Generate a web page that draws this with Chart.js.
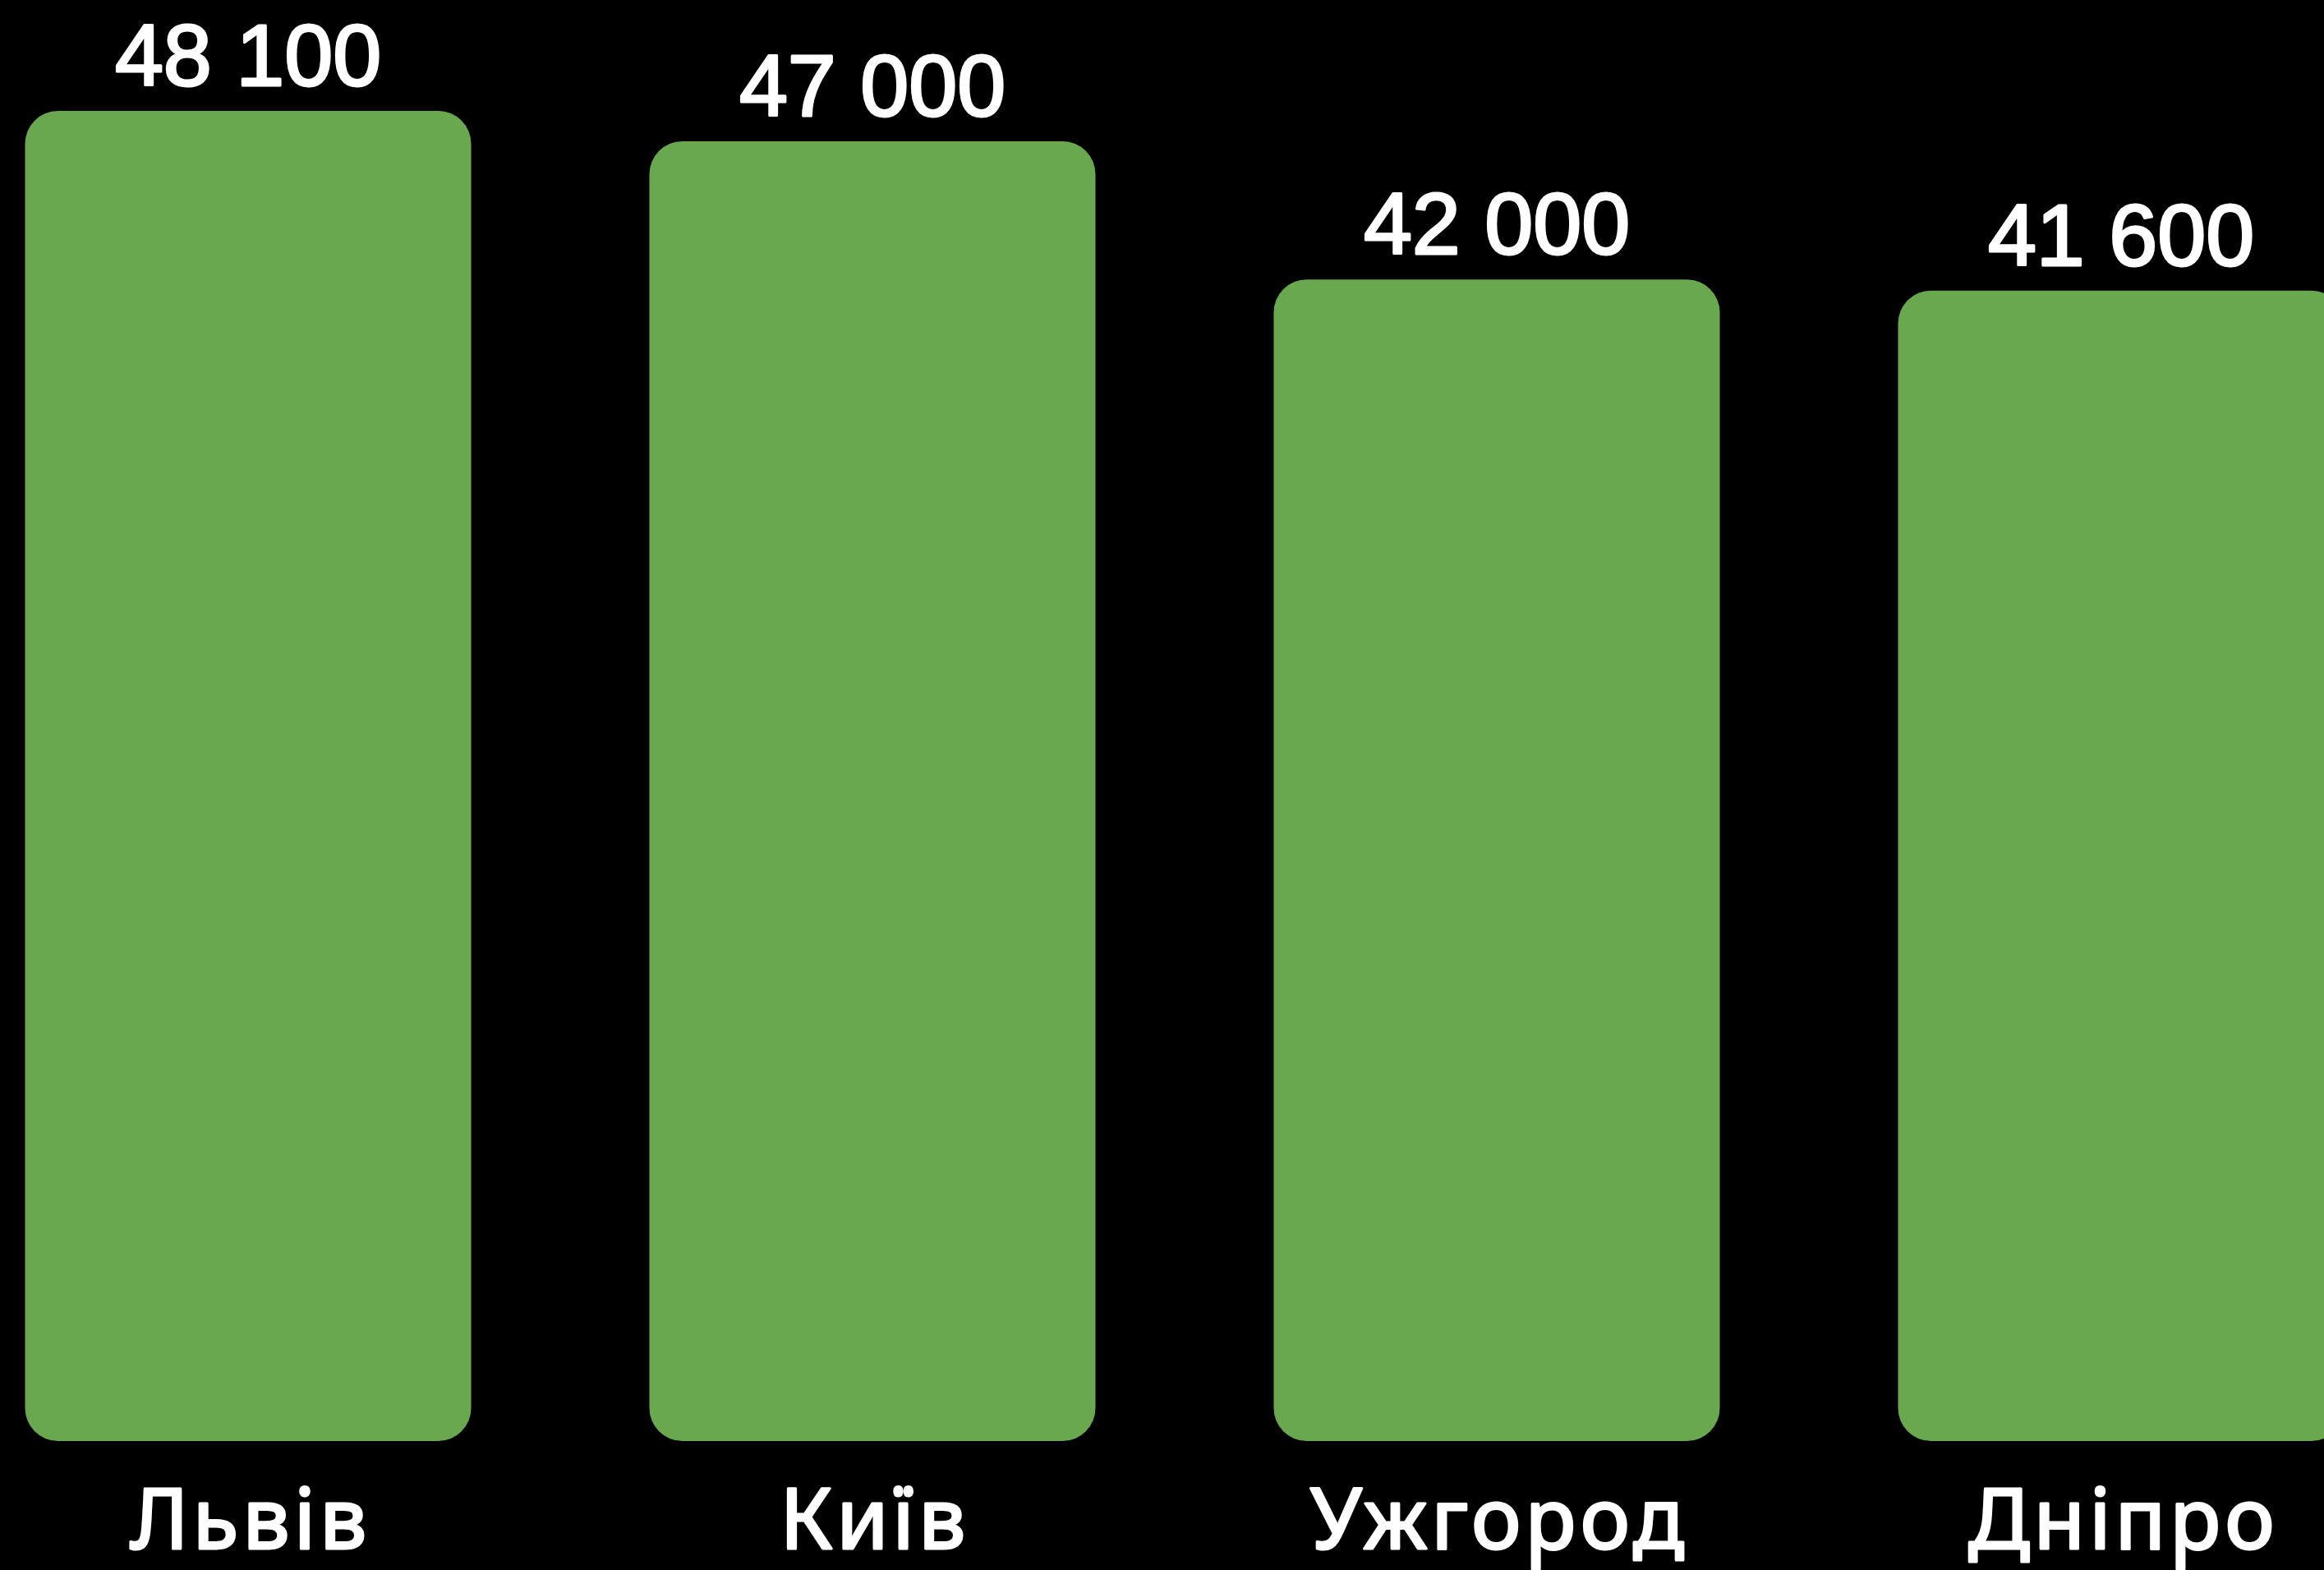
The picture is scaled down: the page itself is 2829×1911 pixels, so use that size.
<!DOCTYPE html>
<html lang="uk">
<head>
    <meta charset="UTF-8">
    <title>Міста</title>
    <style>
        html, body {
            margin: 0;
            padding: 0;
            background-color: #000;
            overflow: hidden;
            width: 2829px;
            height: 1911px;
        }

        /* the plot is wider than the window: outer bars are cut at both edges */
        #wrap {
            position: absolute;
            left: -78px;
            top: 0;
            width: 3040px;
            height: 1911px;
        }
    </style>
</head>
<body>
    <div id="wrap">
        <canvas id="graph"></canvas>
    </div>

    <script src="https://cdn.jsdelivr.net/npm/chart.js"></script>
    <script>
        const cities = ['Львів', 'Київ', 'Ужгород', 'Дніпро'];
        const values = [48100, 47000, 42000, 41600];
        const barColor = '#6aa84f';
        const yMax = 52110;

        function formatNumber(n) {
            return n.toString().replace(/\B(?=(\d{3})+(?!\d))/g, ' ');
        }

        function boldText(ctx, text, x, y) {
            ctx.strokeText(text, x, y);
            ctx.fillText(text, x, y);
        }

        // values above the bars, city names under them (positions from the chart's scales)
        const barLabels = {
            id: 'barLabels',
            afterDatasetsDraw(chart) {
                const ctx = chart.ctx;
                const meta = chart.getDatasetMeta(0);
                const xScale = chart.scales.x;
                ctx.save();
                ctx.fillStyle = '#ffffff';
                ctx.strokeStyle = '#ffffff';
                ctx.lineWidth = 3;
                ctx.lineJoin = 'round';
                ctx.textAlign = 'center';
                ctx.textBaseline = 'alphabetic';

                ctx.font = '106px "Liberation Sans", Arial, sans-serif';
                meta.data.forEach(function(bar, i) {
                    boldText(ctx, formatNumber(values[i]), bar.x, bar.y - 31);
                });

                ctx.font = '102px "Noto Sans", sans-serif';
                ctx.letterSpacing = '5px';
                cities.forEach(function(city, i) {
                    boldText(ctx, city, xScale.getPixelForValue(i) + 3, chart.chartArea.bottom + 131);
                });
                ctx.restore();
            }
        };

        const ctx = document.getElementById('graph').getContext('2d');
        new Chart(ctx, {
            type: 'bar',
            data: {
                labels: cities,
                datasets: [{
                    data: values,
                    backgroundColor: barColor,
                    borderWidth: 0,
                    borderRadius: 40,
                    borderSkipped: false,
                    categoryPercentage: 1,
                    barPercentage: 0.7145
                }]
            },
            options: {
                responsive: true,
                maintainAspectRatio: false,
                animation: false,
                layout: {
                    padding: { top: 0, left: 0, right: 0, bottom: 157 }
                },
                plugins: {
                    legend: { display: false },
                    tooltip: { enabled: false }
                },
                scales: {
                    x: { display: false },
                    y: {
                        display: false,
                        min: 0,
                        max: yMax
                    }
                }
            },
            plugins: [barLabels]
        });
    </script>
</body>
</html>
